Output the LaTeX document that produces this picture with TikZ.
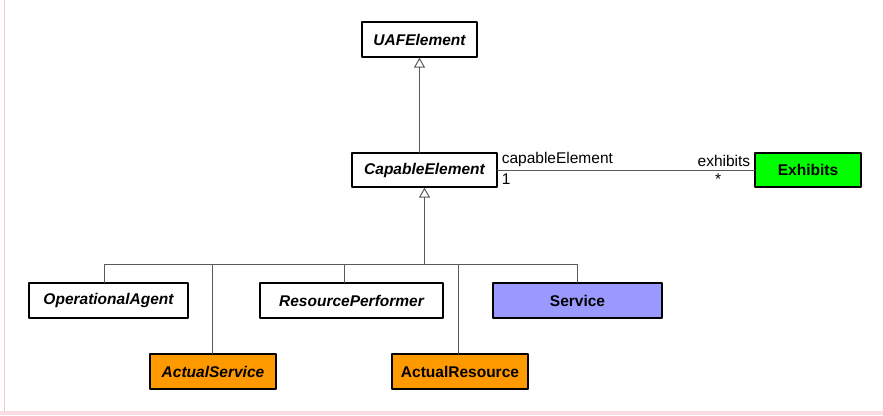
\documentclass[tikz,border=0pt]{standalone}
\usepackage{fontspec}
\setmainfont{Liberation Sans}
\usetikzlibrary{arrows.meta}
\definecolor{actualorange}{HTML}{FF9900}
\definecolor{exhgreen}{HTML}{00FF00}
\definecolor{servblue}{HTML}{9999FF}
\definecolor{linkgray}{HTML}{5A5A5A}
\definecolor{edgepink}{HTML}{F4C8CD}
\definecolor{bandpink}{HTML}{FADDE1}
\begin{document}
\begin{tikzpicture}[x=1pt,y=-1pt,line cap=round,line join=round,
  classbox/.style={draw=black,line width=1.2pt,minimum height=35pt,inner sep=0pt,
    font=\fontsize{15.5}{18}\selectfont\bfseries},
  abstractbox/.style={classbox,font=\fontsize{15.5}{18}\selectfont\bfseries\itshape},
  link/.style={draw=linkgray,line width=1pt},
  gen/.style={link,-{Triangle[open,length=10pt,width=11pt]}},
  rolelabel/.style={font=\fontsize{15.5}{18}\selectfont,inner sep=1pt}]
\useasboundingbox (0,0) rectangle (883,415);
% page edges
\fill[bandpink] (0,411) rectangle (883,415);
\draw[edgepink,line width=1pt] (4,0) -- (4,411);
% classes
\node[abstractbox,minimum width=115pt,fill=white] (uaf) at (419.5,39.5) {UAFElement};
\node[abstractbox,minimum width=145pt,minimum height=34pt,fill=white] (cap) at (424.5,170) {CapableElement};
\node[classbox,minimum width=106pt,minimum height=34pt,fill=exhgreen] (exh) at (808,170) {Exhibits};
\node[abstractbox,minimum width=159pt,fill=white] (opag) at (108.5,300.5) {OperationalAgent};
\node[abstractbox,minimum width=183pt,fill=white] (resp) at (351.5,300.5) {ResourcePerformer};
\node[classbox,minimum width=169pt,fill=servblue] (serv) at (577.5,300.5) {Service};
\node[abstractbox,minimum width=126pt,fill=actualorange] (acts) at (213,371.5) {ActualService};
\node[classbox,minimum width=136pt,fill=actualorange] (actr) at (460,371.5) {ActualResource};
% generalisations
\draw[gen] (cap.north -| uaf.south) -- (uaf.south);
\coordinate (bus) at (424.5,264);
\draw[gen] (bus) -- (cap.south);
\draw[link] (bus) -| ([xshift=-4.5pt]opag.north);
\draw[link] (bus) -| ([xshift=-1pt]acts.north);
\draw[link] (bus) -| ([xshift=-7.5pt]resp.north);
\draw[link] (bus) -| ([xshift=-2pt]actr.north);
\draw[link] (bus) -| ([xshift=-0.5pt]serv.north);
% association
\draw[link] (cap.east) -- (exh.west);
\node[rolelabel,anchor=south west] (capRole) at ([xshift=3pt,yshift=2pt]cap.east) {capableElement};
\node[rolelabel,anchor=north west] (capMult) at ([xshift=3pt,yshift=-3pt]cap.east) {1};
\node[rolelabel,anchor=south east] (exhRole) at ([xshift=-3pt,yshift=2pt]exh.west) {exhibits};
\node[rolelabel,anchor=north east] (exhMult) at ([xshift=-32pt,yshift=-3pt]exh.west) {*};
\end{tikzpicture}
\end{document}
